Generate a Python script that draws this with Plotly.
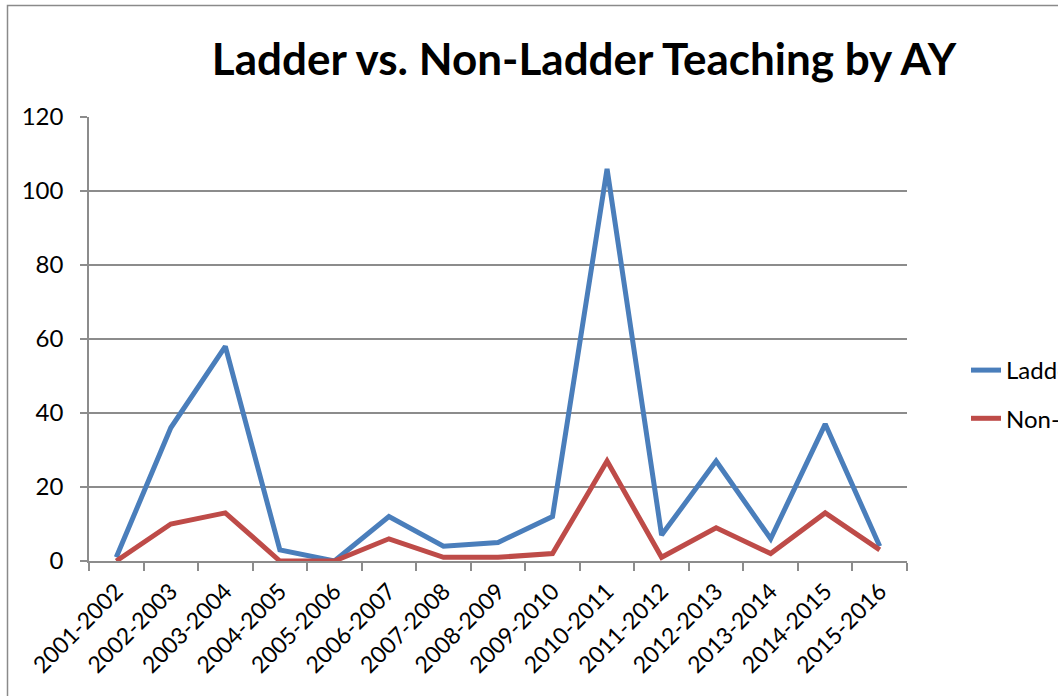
import plotly.graph_objects as go

years = ["2001-2002", "2002-2003", "2003-2004", "2004-2005", "2005-2006",
         "2006-2007", "2007-2008", "2008-2009", "2009-2010", "2010-2011",
         "2011-2012", "2012-2013", "2013-2014", "2014-2015", "2015-2016"]
ladder = [1, 36, 58, 3, 0, 12, 4, 5, 12, 106, 7, 27, 6, 37, 4]
non_ladder = [0, 10, 13, 0, 0, 6, 1, 1, 2, 27, 1, 9, 2, 13, 3]
series_names = ["Ladder", "Non-Ladder"]
y_ticks = [0, 20, 40, 60, 80, 100, 120]

W, H = 1058, 696
L, R, T, B = 89, 151, 117, 135
pw, ph = W - L - R, H - T - B

FONT = "Lato, Carlito, Calibri, sans-serif"
GRID = "#8c8c8c"

fig = go.Figure()
fig.add_trace(go.Scatter(x=years, y=ladder, name=series_names[0], mode="lines",
                         line=dict(color="#4A7EBB", width=5), legendgroup="a"))
fig.add_trace(go.Scatter(x=years, y=non_ladder, name=series_names[1], mode="lines",
                         line=dict(color="#BE4B48", width=5), legendgroup="b"))

def px_x(p):
    return (p - L) / pw

def px_y(p):
    return (H - B - p) / ph

fig.update_layout(
    width=W, height=H,
    margin=dict(l=L, r=R, t=T, b=B, autoexpand=False),
    paper_bgcolor="white", plot_bgcolor="white",
    font=dict(family=FONT, size=24, color="black"),
    title=dict(text="<b>Ladder vs. Non-Ladder Teaching by AY</b>",
               font=dict(family=FONT, size=44, color="black"),
               x=px_x(584), xref="paper", xanchor="center",
               y=1 - 60 / H, yref="container", yanchor="middle"),
    showlegend=True,
    legend=dict(x=px_x(966), y=px_y(348), xanchor="left", yanchor="top",
                font=dict(family=FONT, size=24, color="black"),
                traceorder="grouped", tracegroupgap=14,
                bgcolor="rgba(0,0,0,0)"),
    xaxis=dict(type="category", categoryorder="array", categoryarray=years,
               range=[-0.5, len(years) - 0.5],
               showline=True, linecolor=GRID, linewidth=1.5,
               ticks="outside", tickson="boundaries", ticklen=8,
               tickcolor=GRID, tickwidth=1.5,
               showgrid=False, tickangle=-45, ticklabelstandoff=6,
               tickfont=dict(family=FONT, size=23, color="black")),
    yaxis=dict(range=[0, 120], tickvals=y_ticks, ticktext=[str(v) for v in y_ticks],
               showline=True, linecolor=GRID, linewidth=1.5,
               ticks="outside", ticklen=7, tickcolor=GRID, tickwidth=1.5,
               showgrid=True, gridcolor=GRID, gridwidth=1.5,
               zeroline=False, ticklabelstandoff=12,
               tickfont=dict(family=FONT, size=24, color="black")),
    shapes=[dict(type="rect", xref="paper", yref="paper",
                 x0=px_x(7.5), x1=px_x(W + 40), y0=px_y(H + 40), y1=px_y(5.5),
                 line=dict(color="#8a8a8a", width=1.5), fillcolor="rgba(0,0,0,0)",
                 layer="below")],
)

fig.write_html("out.html", config={"displayModeBar": False},
               post_script="document.body.style.margin='0';document.body.style.overflow='hidden';")
